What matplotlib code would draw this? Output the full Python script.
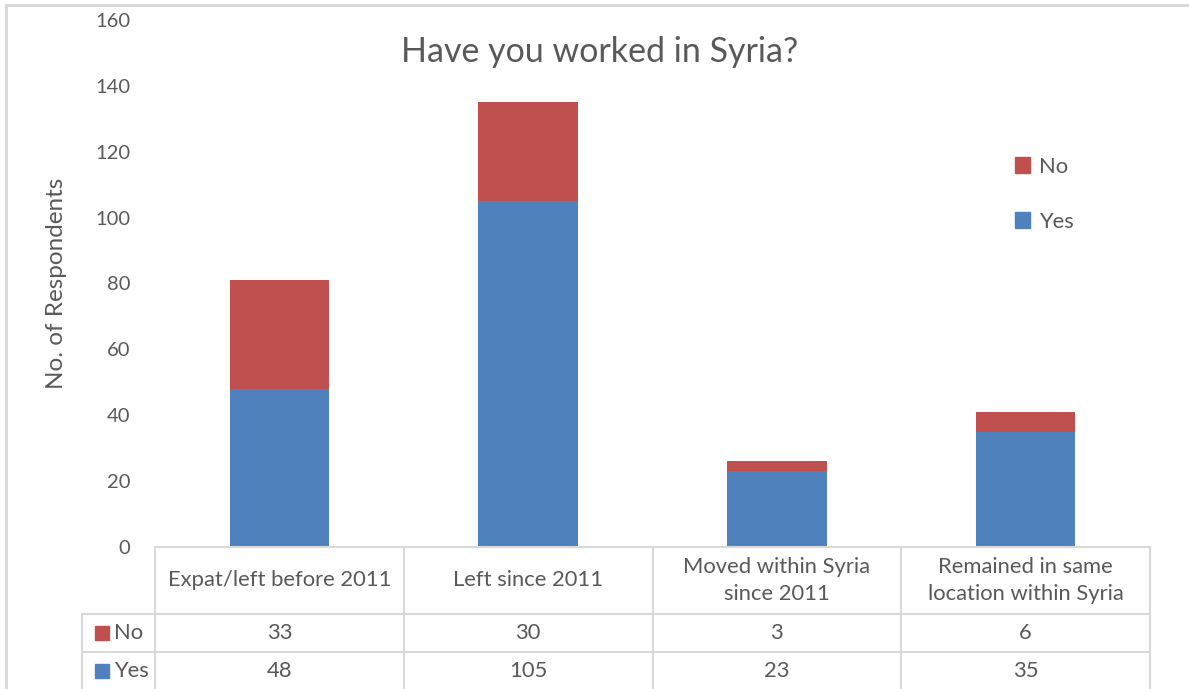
import matplotlib
matplotlib.use('Agg')
import matplotlib.pyplot as plt
from matplotlib.patches import Patch, Rectangle
from matplotlib.lines import Line2D
import matplotlib.transforms as mtransforms

# Datos
categories = ['Expat/left before 2011', 'Left since 2011',
              'Moved within Syria\nsince 2011', 'Remained in same\nlocation within Syria']
yes_vals = [48, 105, 23, 35]
no_vals = [33, 30, 3, 6]
series_names = ['No', 'Yes']

BLUE = '#4F81BD'
RED = '#C0504D'
TEXT = '#595959'
GRID = '#D9D9D9'
FS = 15.8

plt.rcParams['font.family'] = ['Lato', 'DejaVu Sans']

W, H = 1189, 689
fig = plt.figure(figsize=(W / 100, H / 100), dpi=100)

# area de trazado en pixeles
left, right, top, bottom = 155, 1150, 20, 547
ax = fig.add_axes([left / W, 1 - bottom / H, (right - left) / W, (bottom - top) / H])

x = list(range(len(categories)))
ax.bar(x, yes_vals, width=0.4, color=BLUE, zorder=2)
ax.bar(x, no_vals, width=0.4, bottom=yes_vals, color=RED, zorder=2)

ax.set_xlim(-0.5, len(categories) - 0.5)
ax.set_ylim(0, 160)
ax.set_yticks(range(0, 161, 20))
ax.tick_params(axis='y', length=0, labelsize=14.5, labelcolor=TEXT, pad=18)
ax.set_xticks([])
for s in ax.spines.values():
    s.set_visible(False)

ax.set_ylabel('No. of Respondents', fontsize=17.5, color=TEXT, labelpad=20)
fig.text(600 / W, 1 - 52 / H, 'Have you worked in Syria?', fontsize=24.5,
         color=TEXT, ha='center', va='center')

# leyenda
handles = [Patch(color=RED), Patch(color=BLUE)]
fig.legend(handles, series_names, loc='upper left',
           bbox_to_anchor=(995 / W, 1 - 137 / H), frameon=False,
           fontsize=FS, labelcolor=TEXT, handlelength=0.7, handleheight=0.7,
           handletextpad=0.4, labelspacing=1.6)

# tabla de datos
tr = mtransforms.blended_transform_factory(ax.transData, ax.transAxes)
px = 1.0 / (bottom - top)
hdr = -67 * px
r1 = hdr - 38 * px
r2 = r1 - 38 * px
lab_left = -0.5 - 73 / ((right - left) / len(categories))
n = len(categories)

def hline(x0, x1, y):
    ax.add_line(Line2D([x0, x1], [y, y], transform=tr, color=GRID, lw=1.5, clip_on=False))

def vline(xv, y0, y1):
    ax.add_line(Line2D([xv, xv], [y0, y1], transform=tr, color=GRID, lw=1.5, clip_on=False))

hline(-0.5, n - 0.5, 0)
hline(lab_left, n - 0.5, hdr)
hline(lab_left, n - 0.5, r1)
hline(lab_left, n - 0.5, r2)
for i in range(n + 1):
    vline(i - 0.5, 0, r2)
vline(lab_left, hdr, r2)

for i, cat in enumerate(categories):
    ax.text(i, hdr / 2, cat, transform=tr, ha='center', va='center',
            fontsize=FS, color=TEXT, linespacing=1.45, clip_on=False)
    ax.text(i, (hdr + r1) / 2, str(no_vals[i]), transform=tr, ha='center',
            va='center', fontsize=FS, color=TEXT, clip_on=False)
    ax.text(i, (r1 + r2) / 2, str(yes_vals[i]), transform=tr, ha='center',
            va='center', fontsize=FS, color=TEXT, clip_on=False)

sq = 0.055
for yc, name, col in [((hdr + r1) / 2, 'No', RED), ((r1 + r2) / 2, 'Yes', BLUE)]:
    ax.add_patch(Rectangle((lab_left + 0.052, yc - 7 * px), sq, 14 * px,
                           transform=tr, color=col, clip_on=False))
    ax.text(lab_left + 0.13, yc, name, transform=tr, ha='left', va='center',
            fontsize=FS, color=TEXT, clip_on=False)

# marco exterior
fig.add_artist(Line2D([6 / W, 6 / W], [0, 1 - 5 / H], transform=fig.transFigure,
                      color=GRID, lw=2))
fig.add_artist(Line2D([6 / W, 1], [1 - 5 / H, 1 - 5 / H], transform=fig.transFigure,
                      color=GRID, lw=2))

fig.savefig('out.png', dpi=100)
